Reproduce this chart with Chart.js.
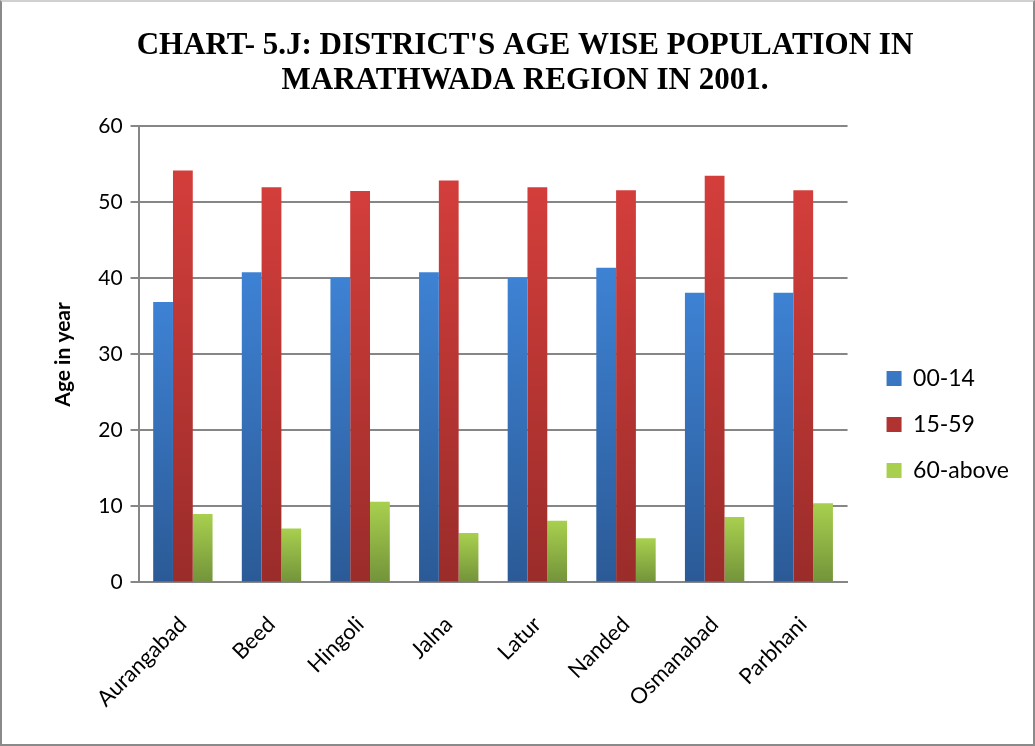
<!DOCTYPE html>
<html>
<head>
<meta charset="utf-8">
<script src="https://cdn.jsdelivr.net/npm/chart.js@4.4.1/dist/chart.umd.min.js"></script>
<style>
  html,body{margin:0;padding:0;background:#fff;}
  #wrap{position:relative;width:1031px;height:742px;border:2px solid #8a8a8a;border-top-color:#d0d0d0;background:#fff;}
</style>
</head>
<body>
<div id="wrap"><canvas id="ageChart" width="1031" height="742"></canvas></div>
<script>
// ==================== Data ====================
const districts = ["Aurangabad","Beed","Hingoli","Jalna","Latur","Nanded","Osmanabad","Parbhani"];
const age0014  = [36.9, 40.8, 40.1, 40.8, 40.1, 41.4, 38.1, 38.1];
const age1559  = [54.2, 52.0, 51.5, 52.9, 52.0, 51.6, 53.5, 51.6];
const age60up  = [9.0, 7.1, 10.6, 6.5, 8.1, 5.8, 8.6, 10.4];
const yTicks   = [0,10,20,30,40,50,60];

const titleLines = ["CHART- 5.J: DISTRICT'S AGE WISE POPULATION IN","MARATHWADA REGION IN 2001."];

// ==================== Helpers ====================
// each bar gets its own top->bottom gradient (lighter on top)
function barGradient(top,bottom){
  return (c)=>{
    const chart=c.chart, {ctx,chartArea}=chart;
    if(!chartArea || c.raw==null) return top;
    const y=chart.scales.y;
    const g=ctx.createLinearGradient(0,y.getPixelForValue(c.raw),0,y.getPixelForValue(0));
    g.addColorStop(0,top); g.addColorStop(1,bottom);
    return g;
  };
}

// nudge the legend a bit lower / further right than the default placement
const legendShift={
  id:'legendShift',
  afterLayout(chart){
    const lg=chart.legend;
    if(!lg) return;
    lg.left+=16; lg.right+=16;
    lg.top+=50;  lg.bottom+=50;
  }
};

const FONT_UI = "Lato, 'Open Sans', sans-serif";

// ==================== Chart ====================
const ctx=document.getElementById("ageChart").getContext("2d");
new Chart(ctx,{
  type:'bar',
  data:{
    labels:districts,
    datasets:[
      {label:'00-14',    data:age0014, backgroundColor:barGradient('#3e82d4','#2b5a96')},
      {label:'15-59',    data:age1559, backgroundColor:barGradient('#d33e3b','#9a2c2a')},
      {label:'60-above', data:age60up, backgroundColor:barGradient('#a8d04e','#73933a')}
    ]
  },
  plugins:[legendShift],
  options:{
    responsive:false,
    animation:false,
    devicePixelRatio:1,
    datasets:{bar:{categoryPercentage:0.67,barPercentage:1.0,borderWidth:0}},
    layout:{padding:{left:45,right:30,top:14,bottom:11}},
    plugins:{
      title:{
        display:true,
        text:titleLines,
        color:'#000',
        font:{family:"'Liberation Serif', 'Times New Roman', serif",size:31,weight:'bold',lineHeight:1.12},
        padding:{top:13,bottom:28}
      },
      legend:{
        position:'right',
        align:'center',
        labels:{
          color:'#000',
          font:{family:FONT_UI,size:23},
          boxWidth:15,boxHeight:15,
          padding:23
        }
      },
      tooltip:{enabled:false}
    },
    scales:{
      x:{
        grid:{display:false,drawOnChartArea:false},
        border:{color:'#868686',width:2},
        ticks:{
          color:'#000',
          font:{family:FONT_UI,size:22},
          minRotation:45,maxRotation:45,
          padding:21
        }
      },
      y:{
        min:0,max:60,
        afterBuildTicks:(s)=>{ s.ticks=yTicks.map(v=>({value:v})); },
        grid:{color:'#868686',lineWidth:2,tickLength:8,drawTicks:true},
        border:{color:'#868686',width:2},
        ticks:{color:'#000',font:{family:FONT_UI,size:21},padding:8},
        title:{
          display:true,
          text:'Age in year',
          color:'#000',
          font:{family:FONT_UI,size:21,weight:'bold'},
          padding:{bottom:14}
        }
      }
    }
  }
});
</script>
</body>
</html>
